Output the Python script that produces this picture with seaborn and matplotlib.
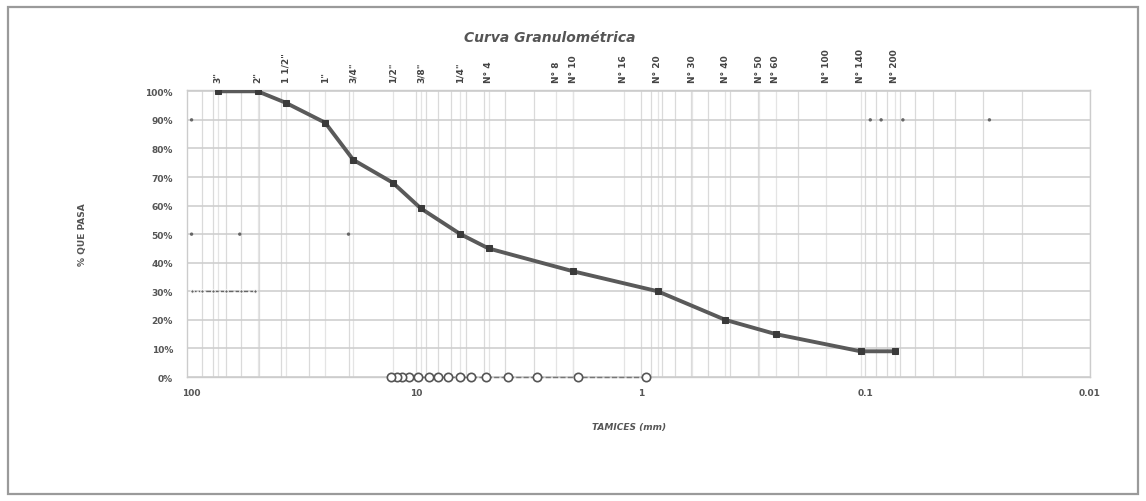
# Curva granulométrica - % que pasa vs abertura de tamiz (escala log invertida)
import numpy as np
import pandas as pd
import matplotlib.pyplot as plt
import seaborn as sns
from matplotlib.ticker import FixedLocator, NullLocator, NullFormatter

# tamices (etiquetas superiores) y abertura en mm
tamices = ['3"', '2"', '1 1/2"', '1"', '3/4"', '1/2"', '3/8"', '1/4"', 'N° 4',
           'N° 8', 'N° 10', 'N° 16', 'N° 20', 'N° 30', 'N° 40', 'N° 50', 'N° 60',
           'N° 100', 'N° 140', 'N° 200']
abertura_tamiz = [76.2, 50.8, 38.1, 25.4, 19.05, 12.7, 9.525, 6.35, 4.76,
                  2.38, 2.0, 1.19, 0.84, 0.59, 0.42, 0.297, 0.25,
                  0.149, 0.105, 0.074]

# curva de la muestra
abertura = [76.2, 50.8, 38.1, 25.4, 19.05, 12.7, 9.525, 6.35, 4.76,
            2.0, 0.84, 0.42, 0.25, 0.105, 0.074]
pasa = [100, 100, 96, 89, 76, 68, 59, 50, 45,
        37, 30, 20, 15, 9, 9]

# serie de circulos sobre el 0 %
abertura_0 = [13.0, 12.2, 11.5, 10.8, 9.8, 8.8, 8.0, 7.2, 6.4, 5.7, 4.9, 3.9, 2.9, 1.9, 0.95]
pasa_0 = [0] * len(abertura_0)

# marcas sueltas (series auxiliares)
aux_30_x = [100, 90, 80, 70, 60, 52]
aux_30_y = [30] * 6
aux_pts_x = [100, 61, 20, 100, 0.095, 0.085, 0.068, 0.028]
aux_pts_y = [50, 50, 50, 90, 90, 90, 90, 90]

ticks_y = list(range(0, 101, 10))
etiquetas_y = [f"{v}%" for v in ticks_y]
ticks_x = [100, 10, 1, 0.1, 0.01]
etiquetas_x = ['100', '10', '1', '0.1', '0.01']

sns.set_style("white")
plt.rcParams['font.family'] = ['DejaVu Sans']

fig = plt.figure(figsize=(11.46, 5.02), dpi=100)
ax = fig.add_axes([0.163, 0.247, 0.788, 0.572])

gris = '#555555'

# grilla
ax.set_xscale('log')
ax.set_xlim(105, 0.01)
ax.set_ylim(0, 100.5)
for d in range(-2, 2):
    for k in range(1, 10):
        ax.axvline(k * 10.0 ** d, color='#dadada', lw=0.9, zorder=0)
for a in abertura_tamiz:
    ax.axvline(a, color='#e4e4e4', lw=0.9, zorder=0)
for v in ticks_y:
    ax.axhline(v, color='#cfcfcf', lw=1.2, zorder=0)

# series
sns.lineplot(x=abertura, y=pasa, ax=ax, color='#5a5a5a', lw=2.8, marker='s',
             markersize=4.5, markerfacecolor='#3a3a3a', markeredgecolor='#3a3a3a', zorder=4)
sns.lineplot(x=abertura_0, y=pasa_0, ax=ax, color='#777777', lw=1.0, linestyle='--',
             marker='o', markersize=6, markerfacecolor='white', markeredgecolor=gris,
             markeredgewidth=1.2, zorder=5, clip_on=False)
sns.lineplot(x=aux_30_x, y=aux_30_y, ax=ax, color='#666666', lw=1.0, linestyle='--',
             marker='o', markersize=2.5, zorder=3)
sns.scatterplot(x=aux_pts_x, y=aux_pts_y, ax=ax, color='#666666', s=6, marker='o',
                edgecolor='none', zorder=3)

# ejes
ax.xaxis.set_major_locator(FixedLocator(ticks_x))
ax.xaxis.set_minor_locator(NullLocator())
ax.xaxis.set_minor_formatter(NullFormatter())
ax.set_xticks(ticks_x)
ax.set_xticklabels(etiquetas_x, fontsize=6.5, fontweight='bold', color=gris)
ax.set_yticks(ticks_y)
ax.set_yticklabels(etiquetas_y, fontsize=6.5, fontweight='bold', color=gris)
ax.tick_params(axis='both', length=0)
ax.tick_params(axis='x', pad=8)
ax.tick_params(axis='y', pad=10)
for s in ax.spines.values():
    s.set_color('#cccccc')
    s.set_linewidth(1.0)

sup = ax.secondary_xaxis('top')
sup.set_xticks(abertura_tamiz)
sup.set_xticklabels(tamices, rotation=90, fontsize=6.5, fontweight='bold', color='#444444')
sup.xaxis.set_minor_locator(NullLocator())
sup.tick_params(length=0, pad=6)
sup.spines['top'].set_visible(False)

ax.set_ylabel('% QUE PASA', fontsize=6.5, fontweight='bold', color=gris)
ax.yaxis.set_label_coords(-0.11, 0.5)
ax.set_xlabel('TAMICES (mm)', fontsize=6.5, fontweight='bold', fontstyle='italic', color=gris)
ax.xaxis.set_label_coords(0.49, -0.155)

fig.text(0.48, 0.924, 'Curva Granulométrica', ha='center', va='center',
         fontsize=10, fontweight='bold', fontstyle='italic', color=gris)

# marco exterior
fig.add_artist(plt.Rectangle((0.007, 0.014), 0.986, 0.97, transform=fig.transFigure,
                             fill=False, ec='#9a9a9a', lw=1.6))

fig.savefig('out.png', dpi=100)
